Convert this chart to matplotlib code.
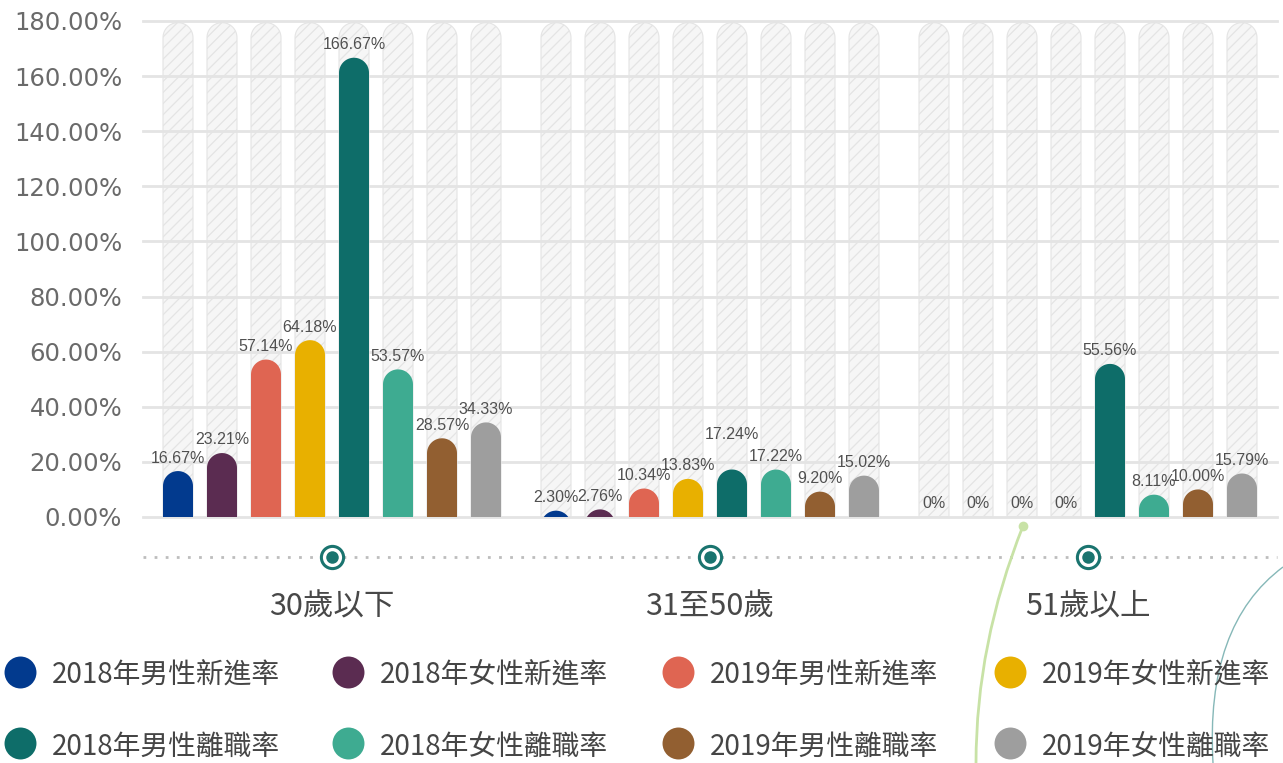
import numpy as np
import matplotlib
matplotlib.use("Agg")
import matplotlib.pyplot as plt
from matplotlib.patches import Polygon, PathPatch
from matplotlib.path import Path
from matplotlib.lines import Line2D
from matplotlib.font_manager import FontProperties

plt.rcParams["font.family"] = ["Noto Sans CJK TC", "DejaVu Sans"]
plt.rcParams["hatch.linewidth"] = 0.9

groups = ["30歲以下", "31至50歲", "51歲以上"]
series = ["2018年男性新進率", "2018年女性新進率", "2019年男性新進率", "2019年女性新進率",
          "2018年男性離職率", "2018年女性離職率", "2019年男性離職率", "2019年女性離職率"]
colors = ["#023a8e", "#5b2c51", "#df6552", "#e8b000",
          "#0e6d69", "#3eab91", "#925f31", "#9e9e9e"]
rate_under30 = [16.67, 23.21, 57.14, 64.18, 166.67, 53.57, 28.57, 34.33]
rate_31_50 = [2.30, 2.76, 10.34, 13.83, 17.24, 17.22, 9.20, 15.02]
rate_over51 = [0, 0, 0, 0, 55.56, 8.11, 10.00, 15.79]
yticks = list(range(0, 181, 20))
ymax = 180

W, H = 1283, 763
AX_L, AX_R, AX_B, AX_T = 143, 1277, 517, 21   # pixel box of the plot area

tick_font = FontProperties(family="DejaVu Sans", size=17.5)
label_font = FontProperties(family="Liberation Sans", size=11.5)

fig = plt.figure(figsize=(W / 100, H / 100), dpi=100)
ax = fig.add_axes([AX_L / W, 1 - AX_B / H, (AX_R - AX_L) / W, (AX_B - AX_T) / H])
ax.set_xlim(-0.5, len(groups) - 0.5)
ax.set_ylim(0, ymax)

step = 44 / 378
bar_w = 30 / 378
# vertical radius of the rounded cap in data units
ry = (bar_w / 2) * ((AX_R - AX_L) / len(groups)) / ((AX_B - AX_T) / ymax)


def rounded_bar(xc, top, **kw):
    t = np.linspace(np.pi, 0, 30)
    base = min(0, top - ry)
    xs = np.concatenate([[xc - bar_w / 2], xc + bar_w / 2 * np.cos(t), [xc + bar_w / 2]])
    ys = np.concatenate([[base], top - ry + ry * np.sin(t), [base]])
    p = Polygon(np.column_stack([xs, ys]), closed=True, **kw)
    ax.add_patch(p)
    return p


# labels that the original lifts to avoid collisions (group, bar) -> extra points
label_lift = {(1, 4): 16}

values = [rate_under30, rate_31_50, rate_over51]
for gi, vals in enumerate(values):
    for j, v in enumerate(vals):
        xc = gi + (j - 3.5) * step
        rounded_bar(xc, ymax - 0.6, facecolor="#f6f6f6", edgecolor="#e4e4e4",
                    hatch="///", lw=0.8, zorder=0.3)
        rounded_bar(xc, v, facecolor=colors[j], edgecolor="none", zorder=2)
        lab = "0%" if v == 0 else f"{v:.2f}%"
        ax.annotate(lab, (xc, v), xytext=(0, 4 + label_lift.get((gi, j), 0)),
                    textcoords="offset points", ha="center", va="bottom",
                    fontproperties=label_font, color="#505050", zorder=3)

ax.set_axisbelow(True)
ax.set_yticks(yticks)
ax.set_yticklabels([f"{t:.2f}%" for t in yticks], fontproperties=tick_font,
                   color="#6a6a6a")
ax.grid(axis="y", color="#e4e4e4", lw=2)
for gl in ax.get_ygridlines():
    gl.set_clip_on(False)
ax.set_xticks([])
ax.tick_params(axis="y", length=0, pad=15)
for s in ax.spines.values():
    s.set_visible(False)

# category axis: dotted line, ring markers, labels
tr = ax.get_xaxis_transform()
y_line = -(557 - AX_B) / (AX_B - AX_T)
y_lab = -(607 - AX_B) / (AX_B - AX_T)
ax.plot([-0.5, len(groups) - 0.5], [y_line, y_line], transform=tr, clip_on=False,
        color="#bdbdbd", lw=2, ls=(0, (1, 3)))
gx = np.arange(len(groups))
ax.plot(gx, [y_line] * len(groups), transform=tr, clip_on=False, ls="none",
        marker="o", ms=16, mfc="white", mec="#1a746f", mew=2.2)
ax.plot(gx, [y_line] * len(groups), transform=tr, clip_on=False, ls="none",
        marker="o", ms=9, mfc="#1a746f", mec="none")
for g, name in zip(gx, groups):
    ax.text(g, y_lab, name, transform=tr, ha="center", va="center",
            fontsize=22, color="#484848")

# legend, 2 rows x 4 columns
leg_x = [20, 348, 678, 1010]
leg_y = [672, 743]
for i, (name, c) in enumerate(zip(series, colors)):
    r, k = divmod(i, 4)
    fx, fy = leg_x[k] / W, 1 - leg_y[r] / H
    fig.add_artist(Line2D([fx], [fy], transform=fig.transFigure, marker="o",
                          ms=23, mfc=c, mec="none", ls="none"))
    fig.text(fx + 32 / W, fy - 4 / H, name, ha="left", va="center", fontsize=20,
             color="#454545")


# decorative curves
def px(x, y):
    return (x / W, 1 - y / H)


green = Path([px(1023, 526), px(976, 644), px(976, 763)],
             [Path.MOVETO, Path.CURVE3, Path.CURVE3])
fig.add_artist(PathPatch(green, transform=fig.transFigure, fill=False,
                         edgecolor="#c8e2a6", lw=2))
fig.add_artist(Line2D([1023 / W], [1 - 526 / H], transform=fig.transFigure,
                      marker="o", ms=7, mfc="#c8e2a6", mec="none"))
teal = Path([px(1283, 567), px(1205, 625), px(1213, 763)],
            [Path.MOVETO, Path.CURVE3, Path.CURVE3])
fig.add_artist(PathPatch(teal, transform=fig.transFigure, fill=False,
                         edgecolor="#86b8b8", lw=1))

fig.savefig("out.png", dpi=100)
